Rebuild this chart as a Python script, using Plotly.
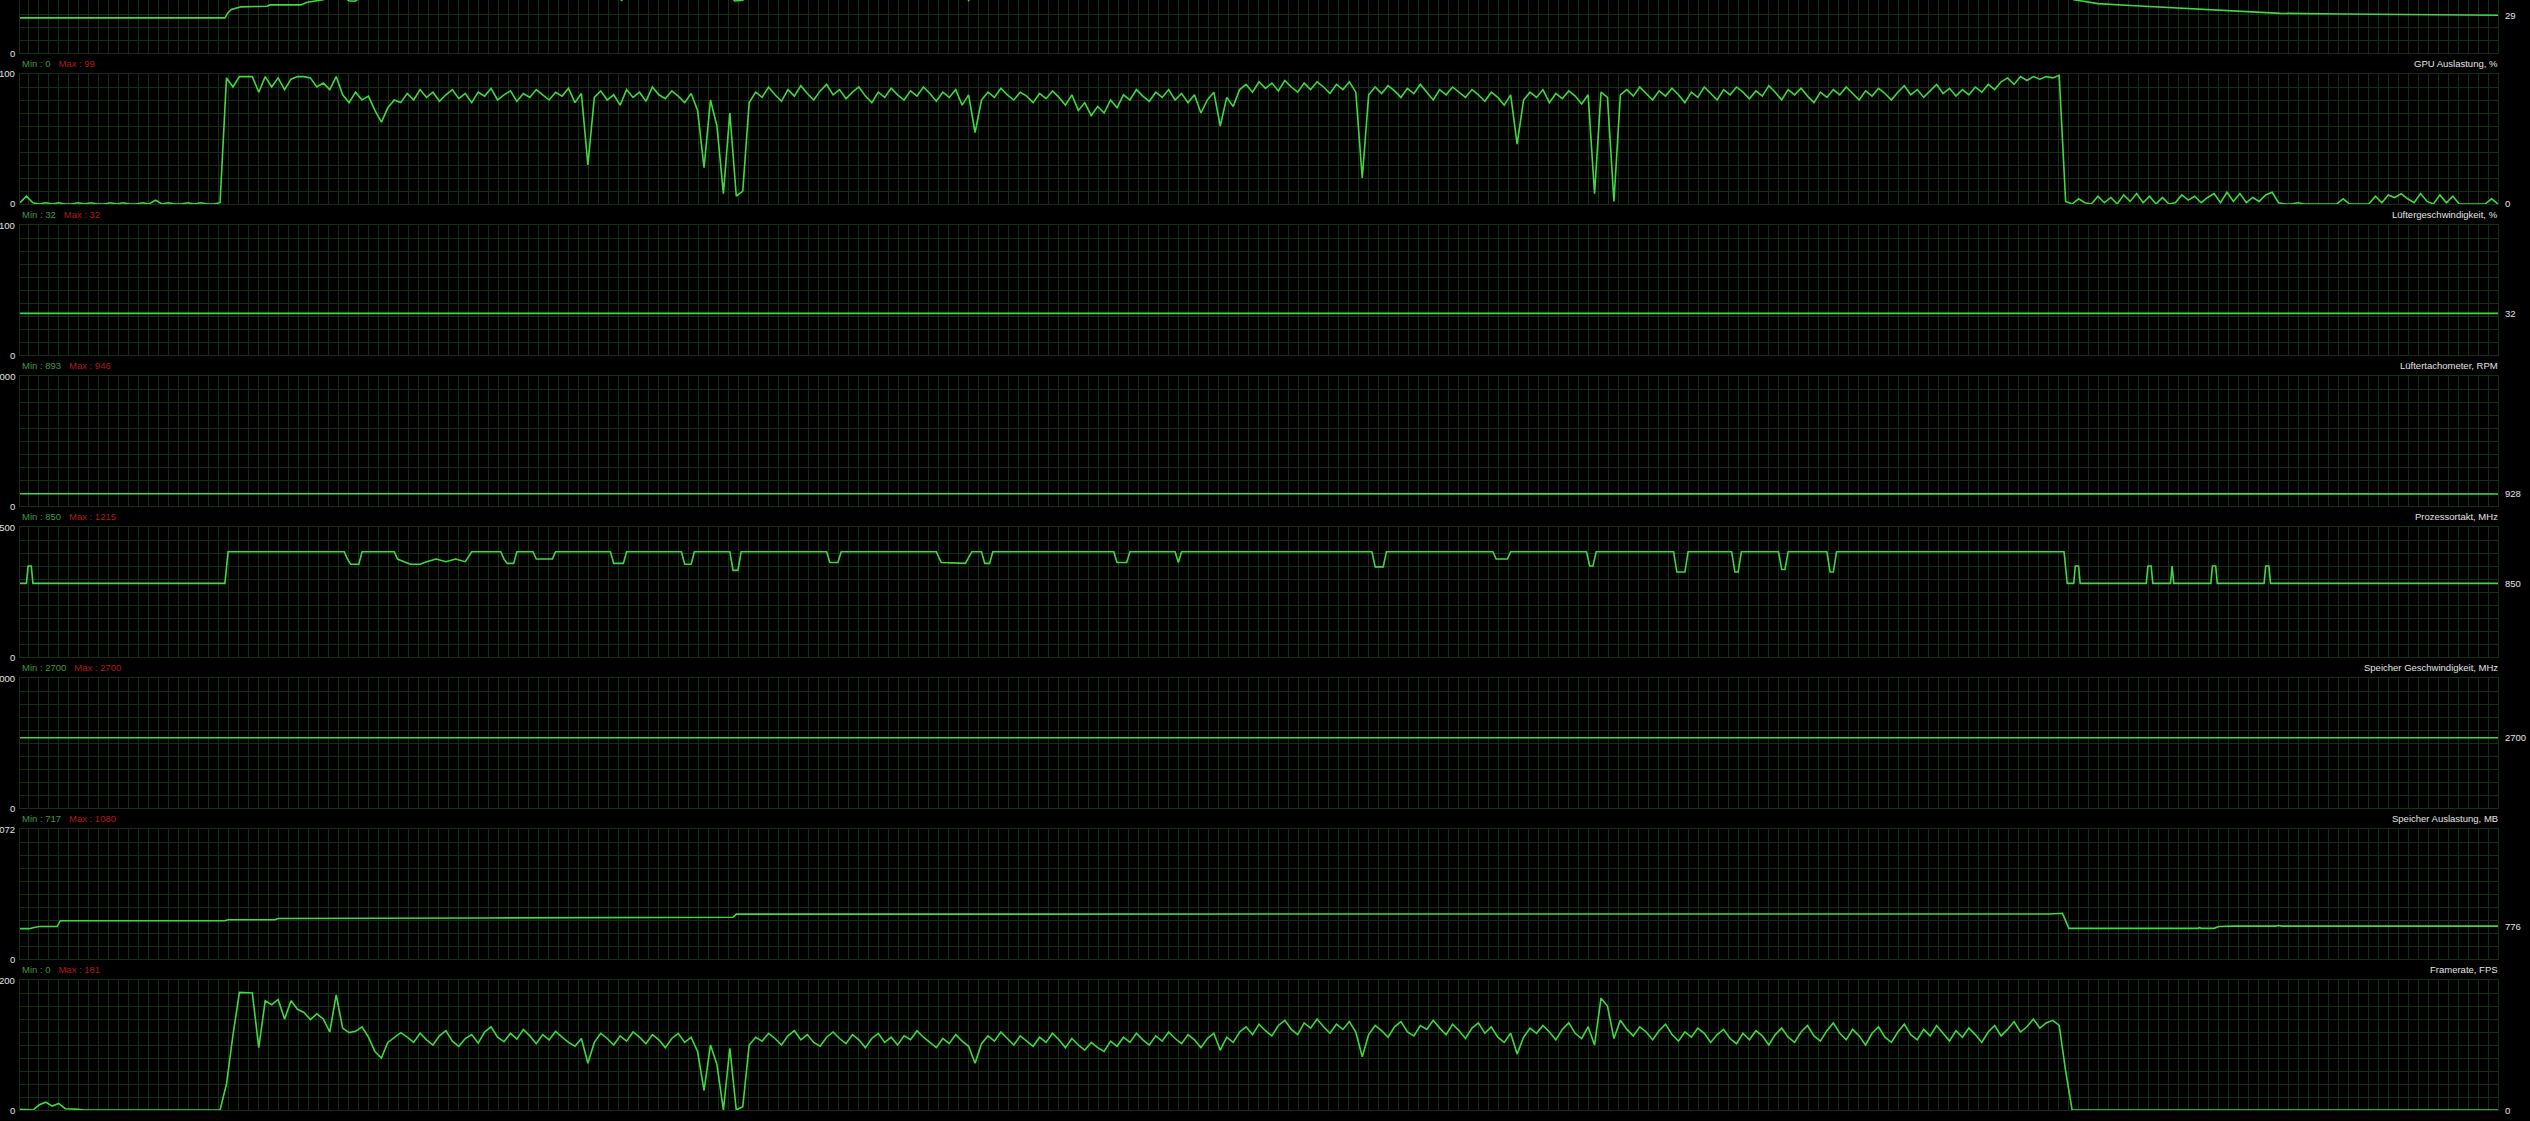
import plotly.graph_objects as go

# ---------------- data (time axis in seconds of the log window) ----------------
# uniformly sampled series: one value every 4 s, 0 .. 1536 s
gpu_load_pct = [
    1, 6, 1, 0, 1, 0, 1, 0, 0, 1, 0, 1, 0, 0, 1, 0, 1, 0, 0, 1,
    0, 3, 0, 1, 0, 0, 1, 0, 1, 0, 0, 1, 97, 90, 98, 98, 98, 86, 98, 90,
    97, 88, 96, 98, 98, 97, 90, 93, 88, 98, 84, 78, 86, 80, 83, 72, 63, 74, 80, 78,
    85, 80, 88, 82, 86, 79, 84, 88, 81, 85, 78, 86, 83, 89, 80, 84, 87, 79, 85, 82,
    88, 84, 80, 86, 83, 89, 78, 85, 30, 82, 87, 80, 84, 76, 88, 82, 86, 79, 90, 84,
    81, 87, 83, 78, 85, 72, 28, 80, 60, 8, 70, 6, 10, 78, 86, 82, 90, 84, 79, 88,
    83, 91, 85, 80, 87, 92, 84, 88, 81, 86, 90, 83, 78, 86, 82, 89, 84, 80, 87, 83,
    90, 85, 79, 86, 82, 88, 76, 84, 55, 80, 86, 82, 89, 84, 80, 86, 83, 78, 85, 81,
    87, 82, 76, 84, 72, 78, 68, 75, 70, 80, 74, 84, 80, 88, 83, 79, 86, 82, 88, 80,
    85, 78, 84, 70, 80, 86, 60, 82, 75, 88, 92, 86, 94, 89, 93, 87, 95, 90, 86, 93,
    88, 94, 90, 85, 92, 88, 94, 86, 20, 84, 90, 85, 91, 87, 82, 89, 85, 92, 86, 80,
    88, 84, 90, 86, 82, 88, 84, 79, 86, 82, 76, 84, 46, 80, 86, 82, 88, 78, 85, 81,
    87, 83, 77, 84, 8, 86, 82, 2, 84, 88, 83, 90, 85, 80, 87, 83, 89, 84, 78, 86,
    82, 90, 85, 80, 88, 84, 90, 86, 81, 87, 83, 91, 86, 80, 88, 84, 89, 83, 78, 86,
    82, 88, 84, 90, 85, 80, 87, 83, 89, 85, 80, 86, 91, 84, 88, 82, 87, 92, 85, 89,
    83, 88, 84, 90, 86, 92, 88, 94, 97, 92, 98, 95, 98, 96, 98, 97, 99, 2, 0, 4,
    1, 0, 6, 1, 5, 0, 7, 2, 8, 1, 6, 0, 5, 0, 1, 7, 3, 6, 1, 5,
    8, 1, 9, 2, 8, 1, 5, 2, 7, 9, 1, 0, 0, 1, 0, 0, 0, 0, 0, 0,
    4, 0, 0, 0, 0, 6, 1, 7, 5, 8, 4, 1, 8, 2, 0, 7, 1, 6, 0, 0,
    0, 0, 0, 4, 0,
]

framerate_fps = [
    1, 1, 0, 8, 12, 6, 10, 2, 2, 1, 0, 0, 0, 0, 0, 0, 0, 0, 0, 0,
    0, 0, 0, 0, 0, 0, 0, 0, 0, 0, 0, 0, 40, 115, 181, 180, 180, 96, 168, 162,
    170, 140, 168, 155, 150, 139, 148, 140, 120, 177, 126, 119, 121, 128, 112, 90, 80, 104, 112, 119,
    112, 104, 118, 108, 100, 114, 122, 106, 98, 110, 116, 103, 120, 128, 112, 105, 118, 109, 124, 114,
    102, 116, 108, 121, 112, 104, 98, 110, 72, 104, 118, 110, 100, 114, 106, 120, 112, 102, 116, 108,
    96, 110, 118, 104, 112, 90, 30, 100, 70, 0, 95, 0, 5, 100, 112, 106, 118, 110, 100, 114,
    122, 108, 116, 104, 98, 112, 120, 110, 102, 116, 108, 96, 110, 118, 104, 112, 100, 114, 108, 122,
    112, 104, 96, 110, 102, 116, 106, 98, 72, 102, 114, 106, 120, 110, 100, 114, 106, 98, 112, 104,
    118, 108, 96, 110, 100, 92, 104, 96, 90, 106, 98, 112, 104, 118, 108, 100, 114, 106, 120, 110,
    102, 116, 108, 96, 110, 118, 92, 112, 104, 120, 128, 116, 132, 122, 114, 130, 138, 124, 116, 134,
    126, 140, 128, 118, 132, 124, 136, 120, 82, 116, 130, 122, 112, 128, 136, 120, 114, 130, 124, 138,
    126, 116, 132, 122, 110, 126, 134, 118, 128, 112, 104, 118, 86, 112, 126, 118, 130, 120, 108, 124,
    134, 118, 110, 128, 100, 172, 160, 110, 138, 124, 114, 128, 120, 108, 122, 132, 116, 106, 120, 112,
    126, 118, 104, 116, 124, 110, 102, 118, 108, 122, 114, 100, 116, 126, 112, 104, 120, 130, 114, 106,
    122, 134, 118, 108, 124, 114, 100, 118, 128, 112, 104, 120, 132, 116, 108, 124, 114, 130, 118, 106,
    122, 112, 126, 116, 104, 120, 130, 114, 124, 136, 120, 128, 140, 126, 134, 138, 130, 60, 0, 0,
    0, 0, 0, 0, 0, 0, 0, 0, 0, 0, 0, 0, 0, 0, 0, 0, 0, 0, 0, 0,
    0, 0, 0, 0, 0, 0, 0, 0, 0, 0, 0, 0, 0, 0, 0, 0, 0, 0, 0, 0,
    0, 0, 0, 0, 0, 0, 0, 0, 0, 0, 0, 0, 0, 0, 0, 0, 0, 0, 0, 0,
    0, 0, 0, 0, 0,
]
SAMPLE_STEP_S = 4

# event-style series: (time s, value) change points
temp_time = [0, 127, 129, 131, 137, 153, 155, 174, 178, 188, 193, 201, 204, 208, 211, 218, 368, 373,
             376, 440, 443, 448, 451, 586, 588, 591, 1268, 1273, 1278, 1288, 1308, 1338, 1368, 1401,
             1438, 1488, 1536]
temp_c = [27, 27, 31, 33.5, 35.5, 36, 37, 37, 39, 41, 43, 43, 40, 40, 43, 44, 45, 40.5,
          45, 45, 40, 40.5, 45, 45, 40.5, 45, 45, 41, 40, 38, 36.5, 34.5, 33, 30.5,
          30, 29.5, 29]

fan_time = [0, 1536]
fan_pct = [32, 32]

rpm_time = [0, 4, 5, 6, 14, 15, 17, 18, 19, 127, 129, 1536]
fan_rpm = [946, 946, 893, 946, 946, 893, 946, 893, 946, 946, 928, 928]

clock_time = [0, 4, 5, 7, 8, 127, 129, 201, 203, 205, 210, 212, 232, 234, 238, 242, 248, 252, 258, 264,
              270, 276, 280, 298, 300, 302, 306, 308, 318, 320, 330, 332, 366, 368, 374, 376, 410, 412,
              416, 418, 440, 442, 445, 447, 500, 502, 507, 509, 568, 571, 586, 590, 596, 598, 601, 603,
              678, 680, 686, 688, 716, 718, 720, 838, 840, 845, 847, 913, 915, 922, 924, 971, 973, 975,
              977, 1025, 1027, 1032, 1034, 1061, 1063, 1065, 1067, 1090, 1092, 1094, 1096, 1120, 1122,
              1124, 1126, 1267, 1269, 1273, 1274, 1276, 1277, 1318, 1319, 1321, 1322, 1333, 1334, 1335,
              1358, 1359, 1361, 1362, 1391, 1392, 1394, 1395, 1536]
core_clock_mhz = [850, 850, 1050, 1050, 850, 850, 1215, 1215, 1130, 1070, 1070, 1215, 1215, 1130, 1100, 1070,
                  1070, 1100, 1130, 1100, 1130, 1100, 1215, 1215, 1130, 1080, 1080, 1215, 1215, 1130, 1130,
                  1215, 1215, 1080, 1080, 1215, 1215, 1070, 1070, 1215, 1215, 1000, 1000, 1215, 1215, 1090,
                  1090, 1215, 1215, 1090, 1080, 1215, 1215, 1080, 1080, 1215, 1215, 1090, 1090, 1215, 1215,
                  1090, 1215, 1215, 1040, 1040, 1215, 1215, 1130, 1130, 1215, 1215, 1050, 1050, 1215, 1215,
                  980, 980, 1215, 1215, 980, 980, 1215, 1215, 1010, 1010, 1215, 1215, 980, 980, 1215, 1215,
                  850, 850, 1050, 1050, 850, 850, 1050, 1050, 850, 850, 1050, 850, 850, 1050, 1050, 850,
                  850, 1050, 1050, 850, 850]

memclk_time = [0, 1536]
mem_clock_mhz = [2700, 2700]

memuse_time = [0, 6, 8, 12, 23, 25, 127, 129, 158, 160, 288, 442, 444, 688, 838, 1088, 1258, 1266, 1270,
               1350, 1351, 1352, 1360, 1363, 1372, 1390, 1392, 1394, 1398, 1400, 1402, 1536]
mem_used_mb = [717, 717, 740, 767, 767, 905, 905, 929, 929, 958, 970, 985, 1060, 1062, 1058, 1060, 1065, 1080,
               724, 724, 740, 724, 724, 769, 778, 778, 774, 778, 778, 790, 776, 776]

titles = [None, "GPU Auslastung, %", "Lüftergeschwindigkeit, %", "Lüftertachometer, RPM",
          "Prozessortakt, MHz", "Speicher Geschwindigkeit, MHz", "Speicher Auslastung, MB",
          "Framerate, FPS"]
axis_max = [100, 100, 100, 10000, 1500, 5000, 3072, 200]

# ---------------- layout / style ----------------
W, H = 2530, 1121
PLOT_L, PLOT_R = 20, 2498
FIRST_TOP, PITCH, PANEL_H = 74, 151, 130
T_END = 1536
BG = "#000000"
GRID = "#162e16"
LINE = "#42d842"
TXT = "#e4e4e4"
MINC = "#3f9a3f"
MAXC = "#b01a1a"
FONT = "Liberation Sans, Arial, sans-serif"
FS = 9.5

grid_t = [i * SAMPLE_STEP_S for i in range(len(gpu_load_pct))]
series = [
    (temp_time, temp_c),
    (grid_t, gpu_load_pct),
    (fan_time, fan_pct),
    (rpm_time, fan_rpm),
    (clock_time, core_clock_mhz),
    (memclk_time, mem_clock_mhz),
    (memuse_time, mem_used_mb),
    ([i * SAMPLE_STEP_S for i in range(len(framerate_fps))], framerate_fps),
]

fig = go.Figure()
layout = dict(
    width=W, height=H, margin=dict(l=0, r=0, t=0, b=0),
    paper_bgcolor=BG, plot_bgcolor=BG, showlegend=False,
    font=dict(family=FONT, size=FS, color=TXT),
    hovermode=False,
)
annotations = []
x_dtick = T_END * 10 / (PLOT_R - PLOT_L)


def fmt(v):
    return str(int(round(v)))


for i, ((xs, ys), title, ymax) in enumerate(zip(series, titles, axis_max)):
    top_px = FIRST_TOP + PITCH * (i - 1)
    bot_px = top_px + PANEL_H
    vis_top = max(top_px, 0)
    rng_top = ymax * (bot_px - vis_top) / PANEL_H
    sfx = "" if i == 0 else str(i + 1)
    xa, ya = "xaxis" + sfx, "yaxis" + sfx
    xr, yr = "x" + sfx, "y" + sfx
    layout[xa] = dict(
        domain=[PLOT_L / W, PLOT_R / W], range=[0, T_END], anchor=yr,
        showticklabels=False, ticks="", showgrid=True, gridcolor=GRID, gridwidth=1,
        tick0=T_END, dtick=x_dtick, zeroline=False,
        showline=True, mirror=True, linecolor=GRID, linewidth=1, fixedrange=True,
    )
    layout[ya] = dict(
        domain=[1 - bot_px / H, 1 - vis_top / H], range=[0, rng_top], anchor=xr,
        showticklabels=False, ticks="", showgrid=True, gridcolor=GRID, gridwidth=1,
        tick0=0, dtick=ymax / 10, zeroline=False,
        showline=True, mirror=True, linecolor=GRID, linewidth=1, fixedrange=True,
    )
    fig.add_trace(go.Scatter(
        x=xs, y=ys, mode="lines", line=dict(color=LINE, width=1.6),
        xaxis=xr, yaxis=yr, hoverinfo="skip",
    ))
    # left scale labels
    annotations.append(dict(xref="paper", yref=yr, x=16.5 / W, y=0, text="0",
                            xanchor="right", yanchor="middle", showarrow=False))
    if top_px >= 0:
        annotations.append(dict(xref="paper", yref=yr, x=16.5 / W, y=ymax, text=fmt(ymax),
                                xanchor="right", yanchor="middle", showarrow=False))
    # current value on the right
    annotations.append(dict(xref="paper", yref=yr, x=2503 / W, y=ys[-1], text=fmt(ys[-1]),
                            xanchor="left", yanchor="middle", showarrow=False))
    # header band
    if title is not None:
        hy = 1 - (top_px - 10.5) / H
        nb = "\u00a0\u00a0\u00a0"
        annotations.append(dict(
            xref="paper", yref="paper", x=PLOT_L / W, y=hy, xanchor="left", yanchor="middle",
            showarrow=False,
            text=f"<span style='color:{MINC}'>Min : {fmt(min(ys))}</span>{nb}"
                 f"<span style='color:{MAXC}'>Max : {fmt(max(ys))}</span>"))
        annotations.append(dict(
            xref="paper", yref="paper", x=2500 / W, y=hy, xanchor="right", yanchor="middle",
            showarrow=False, text=title))

layout["annotations"] = annotations
fig.update_layout(**layout)
fig.write_html(
    "out.html",
    config={"displayModeBar": False, "staticPlot": True},
    post_script="document.body.style.margin='0';document.body.style.background='#000';"
                "document.documentElement.style.overflow='hidden';",
)
